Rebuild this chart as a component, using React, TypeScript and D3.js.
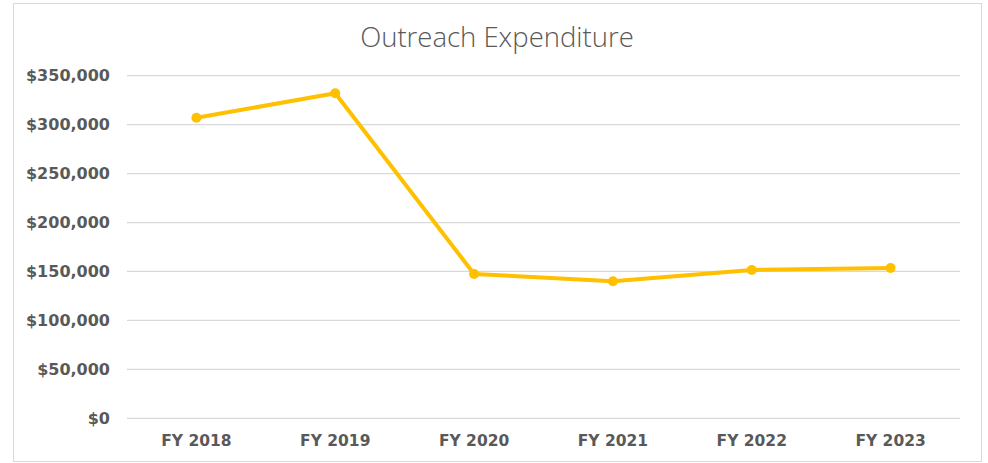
import React, { useEffect, useRef } from 'react';
import * as d3 from 'd3';

const years = ['FY 2018', 'FY 2019', 'FY 2020', 'FY 2021', 'FY 2022', 'FY 2023'];
const expenditure = [307000, 332000, 147500, 140000, 151500, 153500];
const yTicks = [0, 50000, 100000, 150000, 200000, 250000, 300000, 350000];

const App: React.FC = () => {
  const svgRef = useRef<SVGSVGElement>(null);

  useEffect(() => {
    document.body.style.margin = '0';
    if (!svgRef.current) return;
    const svg = d3.select(svgRef.current);
    svg.selectAll('*').remove();

    const width = 988;
    const height = 463;
    const left = 127;
    const right = 960;
    const top = 75.7;
    const bottom = 418.3;

    svg.attr('width', width).attr('height', height);

    svg.append('rect')
      .attr('x', 13.5).attr('y', 3.5)
      .attr('width', 968).attr('height', 458)
      .attr('fill', '#fff')
      .attr('stroke', '#d9d9d9')
      .attr('stroke-width', 1);

    const x = d3.scalePoint<string>().domain(years).range([left, right]).padding(0.5);
    const y = d3.scaleLinear().domain([0, 350000]).range([bottom, top]);

    // gridlines
    svg.append('g')
      .selectAll('line')
      .data(yTicks)
      .join('line')
      .attr('x1', left).attr('x2', right)
      .attr('y1', d => y(d)).attr('y2', d => y(d))
      .attr('stroke', '#d9d9d9')
      .attr('stroke-width', 1.3);

    const labelFont = '"DejaVu Sans", sans-serif';
    const fmt = d3.format('$,.0f');
    svg.append('g')
      .selectAll('text')
      .data(yTicks)
      .join('text')
      .attr('x', 110)
      .attr('y', d => y(d))
      .attr('dy', '0.36em')
      .attr('text-anchor', 'end')
      .attr('font-family', labelFont)
      .attr('font-weight', 700)
      .attr('font-size', 16)
      .attr('fill', '#595959')
      .text(d => fmt(d));

    svg.append('g')
      .selectAll('text')
      .data(years)
      .join('text')
      .attr('x', d => x(d)!)
      .attr('y', 446)
      .attr('text-anchor', 'middle')
      .attr('font-family', labelFont)
      .attr('font-weight', 700)
      .attr('font-size', 15.5)
      .attr('fill', '#595959')
      .text(d => d);

    svg.append('text')
      .attr('x', 497)
      .attr('y', 47)
      .attr('text-anchor', 'middle')
      .attr('font-family', '"Open Sans", sans-serif')
      .attr('font-weight', 300)
      .attr('font-size', 27.5)
      .attr('fill', '#595959')
      .text('Outreach Expenditure');

    const line = d3.line<number>()
      .x((_, i) => x(years[i])!)
      .y(d => y(d));

    svg.append('path')
      .datum(expenditure)
      .attr('d', line)
      .attr('fill', 'none')
      .attr('stroke', '#FFC000')
      .attr('stroke-width', 4)
      .attr('stroke-linejoin', 'round');

    svg.append('g')
      .selectAll('circle')
      .data(expenditure)
      .join('circle')
      .attr('cx', (_, i) => x(years[i])!)
      .attr('cy', d => y(d))
      .attr('r', 5)
      .attr('fill', '#FFC000');
  }, []);

  return <svg ref={svgRef} style={{ display: 'block' }} />;
};

export default App;
